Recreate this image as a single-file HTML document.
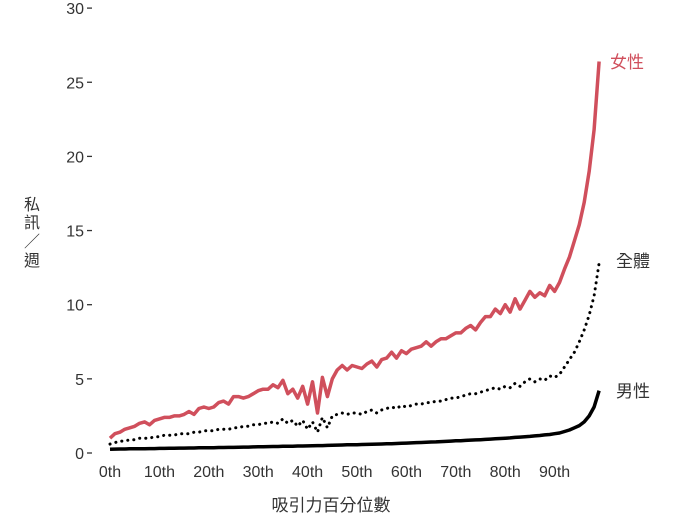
<!DOCTYPE html>
<html><head><meta charset="utf-8">
<style>
html,body{margin:0;padding:0;background:#fff;width:677px;height:516px;overflow:hidden}
svg text{font-family:"Liberation Sans","Noto Sans CJK TC",sans-serif;fill:#333}
</style></head>
<body>
<svg id="chart" width="677" height="516" viewBox="0 0 677 516" xmlns="http://www.w3.org/2000/svg">
<g id="yaxis"></g>
<g id="xaxis"></g>
<g id="series"></g>
<text x="331" y="511" font-size="17" text-anchor="middle">吸引力百分位數</text>
<g font-size="16" text-anchor="middle">
<text x="32" y="210">私</text><text x="32" y="228">訊</text><text x="32" y="247">／</text><text x="32" y="266">週</text>
</g>
<text x="610" y="68" font-size="17" fill="#d04f5c" style="fill:#d04f5c">女性</text>
<text x="616" y="267" font-size="17">全體</text>
<text x="616" y="397" font-size="17">男性</text>
</svg>
<script>
const yTicks=[0,5,10,15,20,25,30];
const xTickLabels=["0th","10th","20th","30th","40th","50th","60th","70th","80th","90th"];
const xTickValues=[0,10,20,30,40,50,60,70,80,90];
const female=[1.0,1.3,1.4,1.6,1.7,1.8,2.0,2.1,1.9,2.2,
2.3,2.4,2.4,2.5,2.5,2.6,2.8,2.6,3.0,3.1,
3.0,3.1,3.4,3.5,3.3,3.8,3.8,3.7,3.8,4.0,
4.2,4.3,4.3,4.6,4.4,4.9,4.0,4.3,3.7,4.5,
3.3,4.8,2.7,5.1,3.8,5.0,5.6,5.9,5.6,5.9,
5.8,5.7,6.0,6.2,5.8,6.3,6.4,6.8,6.4,6.9,
6.7,7.0,7.1,7.2,7.5,7.2,7.5,7.7,7.7,7.9,
8.1,8.1,8.4,8.6,8.3,8.8,9.2,9.2,9.7,9.4,
10.0,9.5,10.4,9.7,10.3,10.9,10.5,10.8,10.6,11.3,
10.9,11.5,12.4,13.2,14.3,15.4,16.9,19.0,21.8,26.4];
const overall=[0.6,0.7,0.8,0.8,0.9,0.9,1.0,1.0,1.0,1.1,
1.1,1.2,1.2,1.2,1.3,1.3,1.3,1.4,1.4,1.5,
1.5,1.5,1.6,1.6,1.6,1.7,1.7,1.8,1.8,1.9,
1.9,2.0,2.0,2.1,2.0,2.3,2.0,2.2,1.8,2.2,
1.6,2.1,1.4,2.4,1.7,2.5,2.6,2.7,2.6,2.7,
2.7,2.6,2.8,2.9,2.7,2.9,3.0,3.1,3.0,3.2,
3.1,3.2,3.3,3.3,3.4,3.4,3.5,3.5,3.6,3.7,
3.7,3.8,3.9,4.0,4.0,4.1,4.2,4.3,4.4,4.3,
4.5,4.4,4.7,4.5,4.8,5.0,4.8,5.0,4.9,5.2,
5.1,5.3,5.8,6.3,6.8,7.5,8.3,9.3,10.6,12.8];
const male=[0.25,0.26,0.27,0.27,0.28,0.28,0.29,0.29,0.30,0.30,
0.31,0.31,0.32,0.32,0.33,0.33,0.34,0.34,0.35,0.35,
0.36,0.36,0.37,0.37,0.38,0.38,0.39,0.40,0.40,0.41,
0.42,0.42,0.43,0.44,0.44,0.45,0.46,0.46,0.47,0.47,
0.48,0.49,0.50,0.50,0.51,0.52,0.53,0.54,0.55,0.55,
0.56,0.57,0.58,0.59,0.60,0.61,0.62,0.63,0.64,0.66,
0.67,0.68,0.70,0.71,0.72,0.74,0.75,0.77,0.78,0.80,
0.82,0.83,0.85,0.87,0.88,0.90,0.92,0.94,0.96,0.98,
1.00,1.02,1.05,1.07,1.10,1.12,1.15,1.18,1.22,1.25,
1.30,1.35,1.45,1.55,1.70,1.85,2.10,2.50,3.10,4.20];
const NS="http://www.w3.org/2000/svg";
function xs(i){return 110+i*4.94;}
function ys(v){return 453-v*14.83;}
const ya=document.getElementById('yaxis');
yTicks.forEach(t=>{
 const tx=document.createElementNS(NS,'text');
 
 
 tx.setAttribute('x',84);tx.setAttribute('y',ys(t)+6);
 tx.setAttribute('font-size','16');tx.setAttribute('text-anchor','end');
 tx.textContent=t;ya.appendChild(tx);
 const ln=document.createElementNS(NS,'line');
 
 
 ln.setAttribute('x1',87);ln.setAttribute('x2',92);
 ln.setAttribute('y1',ys(t));ln.setAttribute('y2',ys(t));
 ln.setAttribute('stroke','#333');ln.setAttribute('stroke-width','1.3');
 ya.appendChild(ln);
});
const xa=document.getElementById('xaxis');
xTickValues.forEach((v,k)=>{
 const tx=document.createElementNS(NS,'text');
 
 
 tx.setAttribute('x',xs(v));tx.setAttribute('y',477);
 tx.setAttribute('font-size','16');tx.setAttribute('text-anchor','middle');
 tx.textContent=xTickLabels[k];xa.appendChild(tx);
});
const sg=document.getElementById('series');
function line(data,name,stroke,width,dash){
 const p=document.createElementNS(NS,'path');
 
 
 p.setAttribute('d',data.map((v,i)=>(i?'L':'M')+xs(i).toFixed(1)+','+ys(v).toFixed(1)).join(''));
 p.setAttribute('fill','none');p.setAttribute('stroke',stroke);
 p.setAttribute('stroke-width',width);p.setAttribute('stroke-linejoin','round');
 if(dash){p.setAttribute('stroke-dasharray',dash);p.setAttribute('stroke-linecap','round');}
 sg.appendChild(p);
}
line(female,'line-female','#d04f5c',3.5);
line(overall,'line-overall','#000',3,'0.1 6');
line(male,'line-male','#000',3.5);
</script>
</body></html>
